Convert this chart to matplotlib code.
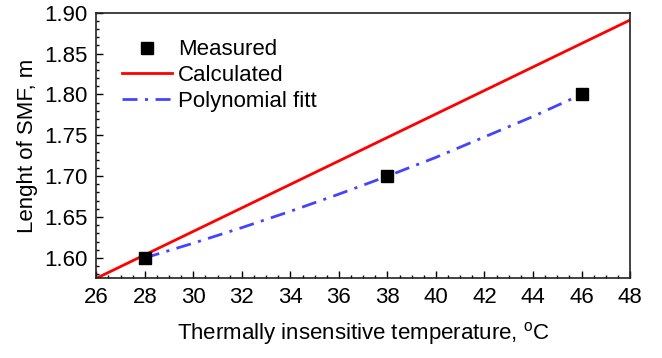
import numpy as np
import matplotlib
matplotlib.use('Agg')
import matplotlib.pyplot as plt
from matplotlib.ticker import MultipleLocator

plt.rcParams['font.family'] = ['Liberation Sans', 'DejaVu Sans']
plt.rcParams['mathtext.fontset'] = 'custom'
plt.rcParams['mathtext.rm'] = 'Liberation Sans'

# measured lengths
t_meas = [28, 38, 46]
len_meas = [1.60, 1.70, 1.80]

# calculated (straight line)
t_calc = [26, 48]
len_calc = [1.575, 1.891]

# polynomial fit
t_fit = [28, 30, 32, 34, 36, 38, 40, 42, 44, 46]
len_fit = [1.600, 1.618, 1.637, 1.657, 1.678, 1.700, 1.723, 1.748, 1.773, 1.800]


def main():
    fig = plt.figure(figsize=(6.62, 3.58), dpi=100)
    ax = fig.add_axes([0.1455, 0.2226, 0.8062, 0.7419])

    ax.plot(t_calc, len_calc, color='#ff0000', lw=2, label='Calculated', zorder=2)
    ax.plot(t_fit, len_fit, color='#4444ff', lw=2, dashes=(5.4, 2.7, 1.1, 2.7),
            label='Polynomial fitt', zorder=3)
    ax.plot(t_meas, len_meas, 's', color='black', ms=8.5, label='Measured', zorder=4)

    ax.set_xlim(26, 48)
    ax.set_ylim(1.575, 1.90)
    ax.xaxis.set_major_locator(MultipleLocator(2))
    ax.xaxis.set_minor_locator(MultipleLocator(0.5))
    ax.yaxis.set_major_locator(MultipleLocator(0.05))
    ax.yaxis.set_minor_locator(MultipleLocator(0.01))
    ax.yaxis.set_major_formatter(plt.FormatStrFormatter('%.2f'))

    ax.tick_params(which='both', direction='in', top=False, right=False,
                   width=1.0, labelsize=16, colors='black')
    ax.tick_params(which='major', length=5, pad=6)
    ax.tick_params(which='minor', length=2.5)
    for sp in ax.spines.values():
        sp.set_linewidth(1.2)
        sp.set_color('#222222')

    ax.set_xlabel('Thermally insensitive temperature, $^{\\mathrm{o}}$C', fontsize=16, labelpad=9)
    ax.set_ylabel('Lenght of SMF, m', fontsize=16, labelpad=5)

    h, l = ax.get_legend_handles_labels()
    order = [2, 0, 1]
    ax.legend([h[i] for i in order], [l[i] for i in order], loc='upper left',
              bbox_to_anchor=(0.01, 0.975), frameon=False, fontsize=16,
              handlelength=2.25, handletextpad=0.3, labelspacing=0.21)

    fig.savefig('out.png', dpi=100)


if __name__ == "__main__":
    main()
